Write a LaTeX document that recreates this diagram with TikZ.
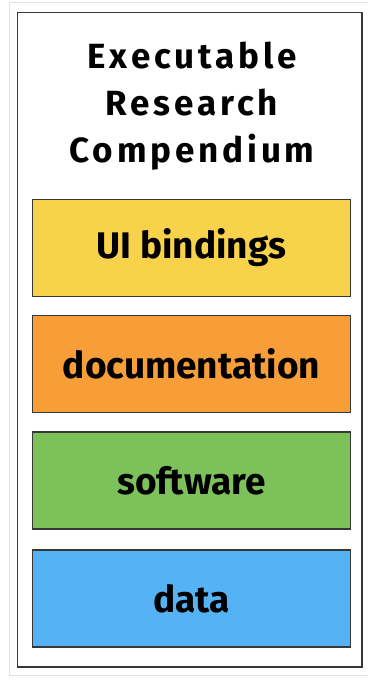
\documentclass[tikz,border=0pt]{standalone}
\usepackage{fontspec}
\setmainfont{Fira Sans}
\newfontfamily\titlefont[LetterSpace=11]{Fira Sans}
\definecolor{layeryellow}{RGB}{248,210,74}
\definecolor{layerorange}{RGB}{247,158,56}
\definecolor{layergreen}{RGB}{124,193,90}
\definecolor{layerblue}{RGB}{84,178,245}
\definecolor{framegray}{RGB}{55,55,55}
\definecolor{outergray}{RGB}{225,225,225}
\begin{document}
\begin{tikzpicture}[x=1pt,y=-1pt,
  layer/.style={draw=framegray, line width=1.8pt, minimum width=318pt, minimum height=97pt,
    inner sep=0pt, font=\fontsize{37}{37}\selectfont\bfseries},
  heading/.style={align=center, font=\titlefont\fontsize{35}{47}\selectfont\bfseries}]
  \useasboundingbox (0,0) rectangle (367,684);
  \fill[white] (0,0) rectangle (367,684);
  % faint outer border
  \draw[outergray, line width=1pt] (9,3) rectangle (368,675);
  % compendium frame
  \draw[framegray, line width=1.8pt] (17.5,12.5) rectangle (362,667);
  % title
  \node[heading] (title) at (192,106) {Executable\\Research\\Compendium};
  % stacked layers
  \node[layer, fill=layeryellow] (ui) at (191.5,248) {UI bindings};
  \node[layer, fill=layerorange] (doc) at (191.5,364) {documentation};
  \node[layer, fill=layergreen] (sw) at (191.5,480.5) {software};
  \node[layer, fill=layerblue] (data) at (191.5,598.5) {data};
\end{tikzpicture}
\end{document}
